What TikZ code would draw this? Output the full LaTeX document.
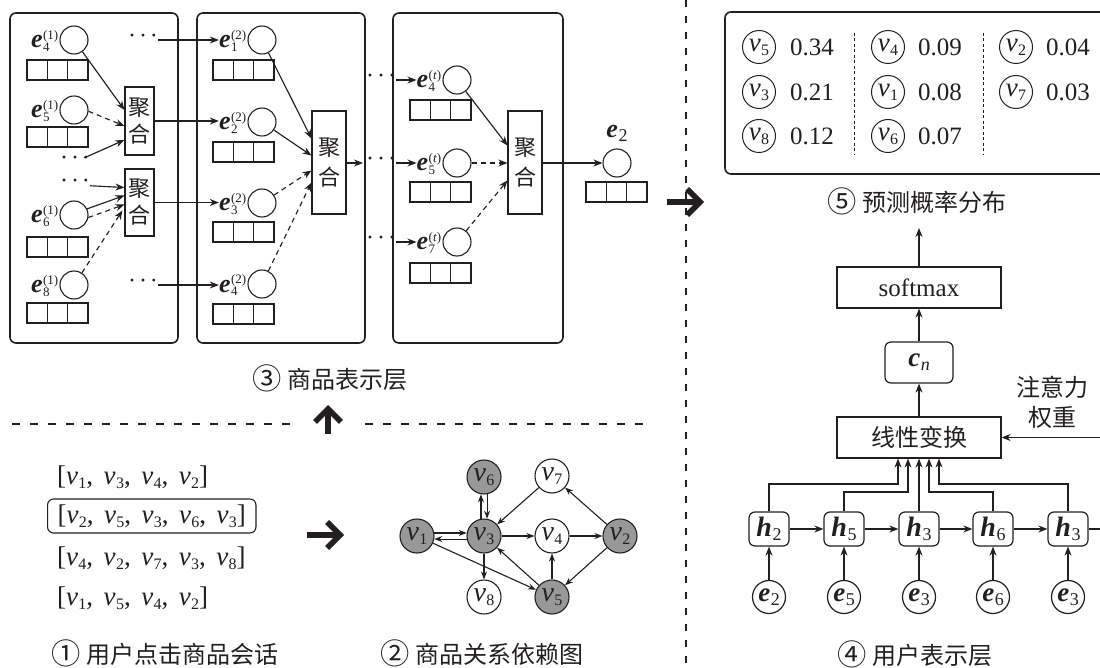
\documentclass[tikz,border=0pt]{standalone}
\usepackage{fontspec}
\usepackage{graphicx}
\setmainfont{Liberation Serif}
\newfontfamily\cjk{Noto Sans CJK SC}
\usetikzlibrary{arrows.meta,calc}
\definecolor{ink}{RGB}{35,31,32}
\definecolor{nodegray}{RGB}{152,152,152}
\newcommand{\myv}[1]{\textit{v}\kern0.3pt\raisebox{-4pt}{\fontsize{16}{16}\selectfont #1}}
\newcommand{\myeu}[2]{\textbf{\textit{e}}\kern0.5pt\rlap{\raisebox{-3.5pt}{\fontsize{13}{13}\selectfont #1}}\raisebox{8.5pt}{\fontsize{13}{13}\selectfont #2}}
\newcommand{\mybs}[2]{\textbf{\textit{#1}}\kern0.5pt\raisebox{-4pt}{\fontsize{18}{18}\selectfont #2}}
\newcommand{\mydots}{·\kern3pt·\kern3pt·}
\newcommand{\cnum}[1]{\raisebox{-1pt}{\scalebox{1.22}{#1}}\kern6pt}
\newcommand{\sep}{,\kern10.5pt}
\begin{document}
\begin{tikzpicture}[x=1pt,y=-1pt,
  every node/.style={text=ink},
  outerbox/.style={draw=ink,line width=1.6pt,rounded corners=6pt},
  ecirc/.style={circle,draw=ink,line width=1.1pt,minimum size=28pt,inner sep=0pt},
  agg/.style={draw=ink,line width=1.1pt,inner sep=0pt,align=center,font=\cjk\fontsize{22}{27}\selectfont},
  elab/.style={inner sep=0pt,anchor=base east,font=\fontsize{26}{26}\selectfont},
  dotsn/.style={inner sep=0pt,text height=8pt,text depth=-4pt,font=\fontsize{24}{24}\selectfont},
  conn/.style={draw=ink,line width=1.15pt,-{Stealth[length=9pt,width=7pt]}},
  dconn/.style={conn,dash pattern=on 5pt off 4pt},
  cells/.pic={\draw[ink,line width=1.1pt] (-30.5,-10) rectangle (30.5,10) (-10.2,-10) -- (-10.2,10) (10.2,-10) -- (10.2,10);},
  gnode/.style={circle,draw=ink,line width=1.1pt,minimum size=34pt,inner sep=0pt,fill=white,font=\fontsize{28}{28}\selectfont},
  gfill/.style={gnode,fill=nodegray},
  gconn/.style={draw=ink,line width=1.1pt,-{Stealth[length=8pt,width=6pt]}},
  pcirc/.style={circle,draw=ink,line width=1pt,minimum size=33pt,inner sep=0pt,font=\fontsize{27}{27}\selectfont},
  pnum/.style={inner sep=0pt,font=\fontsize{25}{25}\selectfont},
  plainbox/.style={draw=ink,line width=1.2pt,inner sep=0pt,minimum height=41pt},
  hbox/.style={draw=ink,line width=1.2pt,rounded corners=6pt,inner sep=0pt,minimum width=40pt,minimum height=34pt,font=\fontsize{28}{28}\selectfont},
  ecirc2/.style={circle,draw=ink,line width=1.2pt,minimum size=33pt,inner sep=0pt,font=\fontsize{27}{27}\selectfont},
  captxt/.style={inner sep=0pt,font=\cjk\fontsize{24}{24}\selectfont},
  cjklab/.style={inner sep=0pt,align=center,font=\cjk\fontsize{24}{30}\selectfont},
  seqn/.style={inner sep=0pt,anchor=west,font=\fontsize{27}{27}\selectfont},
  bigarrow/.style={draw=ink,line width=5.5pt,-{Straight Barb[length=13pt,width=26pt]}},
  sepline/.style={draw=ink,line width=1.1pt,dash pattern=on 8pt off 10pt},
]
\useasboundingbox (0,0) rectangle (1100,668);
\clip (0,0) rectangle (1100,668);

% ---------- outer boxes ----------
\draw[outerbox] (10,13) rectangle (178,343);
\draw[outerbox] (197,13) rectangle (365,343);
\draw[outerbox] (393,13) rectangle (563,343);
\draw[outerbox] (725,12) rectangle (1120,174);

% ---------- box 1 ----------
\node[ecirc] (c41) at (74,40) {};
\node[ecirc] (c51) at (74,110) {};
\node[ecirc] (c61) at (74,215) {};
\node[ecirc] (c81) at (74,285) {};
\node[elab] (l41) at ($(c41.west)+(-1,8)$) {\myeu{4}{(1)}};
\node[elab] (l51) at ($(c51.west)+(-1,8)$) {\myeu{5}{(1)}};
\node[elab] (l61) at ($(c61.west)+(-1,8)$) {\myeu{6}{(1)}};
\node[elab] (l81) at ($(c81.west)+(-1,8)$) {\myeu{8}{(1)}};
\pic at (57.5,70) {cells};
\pic at (57.5,137) {cells};
\pic at (57.5,247) {cells};
\pic at (57.5,313) {cells};
\node[dotsn] (d51) at (75,162) {\mydots};
\node[dotsn] (d52) at (75,185) {\mydots};
\node[dotsn] (d40) at (143,40) {\mydots};
\node[dotsn] (d80) at (143,285) {\mydots};
\node[agg,minimum width=29pt,minimum height=68pt] (a1) at (139.5,121) {聚\\合};
\node[agg,minimum width=29pt,minimum height=67pt] (a2) at (139.5,202.5) {聚\\合};
\draw[conn] (c41) -- ($(a1.west)+(0,-11)$);
\draw[dconn] (c51.-5) -- ($(a1.west)+(0,5)$);
\draw[conn] (d51) -- ($(a1.west)+(0,19)$);
\draw[conn] (d52) -- ($(a2.west)+(0,-15)$);
\draw[conn] (c61.25) -- ($(a2.west)+(0,-7)$);
\draw[dconn] (c61.-10) -- ($(a2.west)+(0,2)$);
\draw[dconn] (c81) -- ($(a2.west)+(-2,8)$);

% ---------- box 2 ----------
\node[ecirc] (c12) at (262,40) {};
\node[ecirc] (c22) at (262,122) {};
\node[ecirc] (c32) at (262,203) {};
\node[ecirc] (c42) at (262,284) {};
\node[elab] (l12) at ($(c12.west)+(-1,8)$) {\myeu{1}{(2)}};
\node[elab] (l22) at ($(c22.west)+(-1,8)$) {\myeu{2}{(2)}};
\node[elab] (l32) at ($(c32.west)+(-1,8)$) {\myeu{3}{(2)}};
\node[elab] (l42) at ($(c42.west)+(-1,8)$) {\myeu{4}{(2)}};
\pic at (243.5,70) {cells};
\pic at (243.5,152) {cells};
\pic at (243.5,232) {cells};
\pic at (243.5,314) {cells};
\node[agg,minimum width=34pt,minimum height=103pt,font=\cjk\fontsize{22}{30}\selectfont] (ab) at (329,162.5) {聚\\合};
\draw[conn] (c12) -- ($(ab.west)+(0,-24)$);
\draw[conn] (c22) -- ($(ab.west)+(0,-7)$);
\draw[dconn] (c32) -- ($(ab.west)+(0,8)$);
\draw[dconn] (c42) -- ($(ab.west)+(0,20)$);
% box1 -> box2
\draw[conn] (d40) -- (d40 -| l12.west);
\draw[conn] (a1.east) -- (a1.east -| l22.west);
\draw[conn] (a2.east) -- (a2.east -| l32.west);
\draw[conn] (d80) -- (d80 -| l42.west);

% ---------- box 3 ----------
\coordinate (tip2) at (363,163);
\draw[conn] (ab.east |- tip2) -- (tip2);
\node[dotsn] (dt1) at (381,80) {\mydots};
\node[dotsn] (dt2) at (381,163) {\mydots};
\node[dotsn] (dt3) at (381,242) {\mydots};
\node[ecirc] (c4t) at (457,80) {};
\node[ecirc] (c5t) at (457,163) {};
\node[ecirc] (c7t) at (457,242) {};
\node[elab] (l4t) at ($(c4t.west)+(-1,8)$) {\myeu{4}{(\textit{t})}};
\node[elab] (l5t) at ($(c5t.west)+(-1,8)$) {\myeu{5}{(\textit{t})}};
\node[elab] (l7t) at ($(c7t.west)+(-1,8)$) {\myeu{7}{(\textit{t})}};
\pic at (440.5,110) {cells};
\pic at (440.5,192) {cells};
\pic at (440.5,273) {cells};
\node[agg,minimum width=34pt,minimum height=103pt,font=\cjk\fontsize{22}{30}\selectfont] (ac) at (525,162.5) {聚\\合};
\draw[conn] (dt1) -- (dt1 -| l4t.west);
\draw[conn] (dt2) -- (dt2 -| l5t.west);
\draw[conn] (dt3) -- (dt3 -| l7t.west);
\draw[conn] (c4t) -- ($(ac.west)+(0,-17)$);
\draw[dconn] (c5t) -- (c5t -| ac.west);
\draw[dconn] (c7t) -- ($(ac.west)+(0,18)$);
\node[ecirc] (cout) at (617,163) {};
\node[inner sep=0pt,font=\fontsize{26}{26}\selectfont] (lout) at (617,133) {\mybs{e}{2}};
\pic at (616.5,192) {cells};
\draw[conn] (ac.east |- cout) -- (cout);

\node[captxt] (cap3) at (330,378) {\cnum{③}商品表示层};

% ---------- separators and big arrows ----------
\draw[sepline] (12,424) -- (297,424);
\draw[sepline] (365,424) -- (647,424);
\draw[draw=ink,line width=1.1pt,dash pattern=on 7pt off 9pt] (686,0) -- (686,668);
\coordinate (ba1s) at (667,202); \coordinate (ba1e) at (704,202);
\coordinate (ba2s) at (328,434); \coordinate (ba2e) at (328,405);
\coordinate (ba3s) at (307,535); \coordinate (ba3e) at (344,535);
\draw[bigarrow] (ba1s) -- (ba1e);
\draw[bigarrow] (ba2s) -- (ba2e);
\draw[bigarrow] (ba3s) -- (ba3e);

% ---------- sessions ----------
\node[seqn] (s1) at (57,477) {[\myv{1}\sep\myv{3}\sep\myv{4}\sep\myv{2}]};
\node[seqn,draw=ink,line width=1.1pt,rounded corners=6pt,inner xsep=10pt,minimum height=34pt] (s2) at (47,516) {[\myv{2}\sep\myv{5}\sep\myv{3}\sep\myv{6}\sep\myv{3}]};
\node[seqn] (s3) at (57,558) {[\myv{4}\sep\myv{2}\sep\myv{7}\sep\myv{3}\sep\myv{8}]};
\node[seqn] (s4) at (57,598) {[\myv{1}\sep\myv{5}\sep\myv{4}\sep\myv{2}]};
\node[captxt] (cap1) at (165,653) {\cnum{①}用户点击商品会话};

% ---------- graph ----------
\node[gfill] (gv6) at (484,477) {\myv{6}};
\node[gnode] (gv7) at (552,476) {\myv{7}};
\node[gfill] (gv1) at (417,536) {\myv{1}};
\node[gfill] (gv3) at (484,536) {\myv{3}};
\node[gnode] (gv4) at (552,536) {\myv{4}};
\node[gfill] (gv2) at (620,536) {\myv{2}};
\node[gnode] (gv8) at (484,597) {\myv{8}};
\node[gfill] (gv5) at (552,597) {\myv{5}};
\draw[gconn] (gv1.10) -- (gv3.170);
\draw[gconn] (gv3.190) -- (gv1.350);
\draw[gconn] (gv3.100) -- (gv6.260);
\draw[gconn] (gv6.280) -- (gv3.80);
\draw[gconn] (gv7) -- (gv3);
\draw[gconn] (gv3) -- (gv4);
\draw[gconn] (gv4) -- (gv2);
\draw[gconn] (gv2) -- (gv7);
\draw[gconn] (gv2) -- (gv5);
\draw[gconn] (gv5) -- (gv4);
\draw[gconn] (gv5) -- (gv3);
\draw[gconn] (gv3) -- (gv8);
\draw[gconn] (gv1) -- (gv5);
\node[captxt] (cap2) at (482,653) {\cnum{②}商品关系依赖图};

% ---------- prediction ----------
\node[pcirc] (p5) at (759,47) {\myv{5}};
\node[pcirc] (p3) at (759,92) {\myv{3}};
\node[pcirc] (p8) at (759,136) {\myv{8}};
\node[pcirc] (p4) at (888,47) {\myv{4}};
\node[pcirc] (p1) at (888,92) {\myv{1}};
\node[pcirc] (p6) at (888,136) {\myv{6}};
\node[pcirc] (p2) at (1016,47) {\myv{2}};
\node[pcirc] (p7) at (1016,92) {\myv{7}};
\node[pnum] (n5) at (812,47) {0.34};
\node[pnum] (n3) at (812,92) {0.21};
\node[pnum] (n8) at (812,136) {0.12};
\node[pnum] (n4) at (940,47) {0.09};
\node[pnum] (n1) at (940,92) {0.08};
\node[pnum] (n6) at (940,136) {0.07};
\node[pnum] (n2) at (1068,47) {0.04};
\node[pnum] (n7) at (1068,92) {0.03};
\draw[ink,line width=1pt,dash pattern=on 3pt off 2.5pt] (854,33) -- (854,155);
\draw[ink,line width=1pt,dash pattern=on 3pt off 2.5pt] (983,33) -- (983,155);
\node[captxt] (cap5) at (917,201) {\cnum{⑤}预测概率分布};

% ---------- user representation ----------
\node[plainbox,minimum width=164pt,font=\fontsize{25}{25}\selectfont] (soft) at (919,287.5) {softmax};
\node[plainbox,minimum width=68pt,rounded corners=6pt,font=\fontsize{27}{27}\selectfont] (cn) at (919,362.5) {\textbf{\textit{c}}\kern0.5pt\raisebox{-4pt}{\fontsize{18}{18}\selectfont\textit{n}}};
\node[plainbox,minimum width=164pt,font=\cjk\fontsize{24}{24}\selectfont] (lin) at (919,437.5) {线性变换};
\node[cjklab] (attn) at (1052,402) {注意力\\权重};
\coordinate (probtip) at (919,228);
\coordinate (attsrc) at (1110,437.5);
\draw[conn] (soft.north) -- (probtip);
\draw[conn] (cn.north) -- (soft.south);
\draw[conn] (lin.north) -- (cn.south);
\draw[conn] (attsrc) -- (lin.east);

\node[hbox] (h1) at (769,529) {\mybs{h}{2}};
\node[hbox] (h2) at (844,529) {\mybs{h}{5}};
\node[hbox] (h3) at (919,529) {\mybs{h}{3}};
\node[hbox] (h4) at (993,529) {\mybs{h}{6}};
\node[hbox] (h5) at (1068,529) {\mybs{h}{3}};
\node[ecirc2] (x1) at (769,597) {\mybs{e}{2}};
\node[ecirc2] (x2) at (844,597) {\mybs{e}{5}};
\node[ecirc2] (x3) at (919,597) {\mybs{e}{3}};
\node[ecirc2] (x4) at (993,597) {\mybs{e}{6}};
\node[ecirc2] (x5) at (1068,597) {\mybs{e}{3}};
\draw[conn] (x1) -- (h1);
\draw[conn] (x2) -- (h2);
\draw[conn] (x3) -- (h3);
\draw[conn] (x4) -- (h4);
\draw[conn] (x5) -- (h5);
\draw[conn] (h1) -- (h2);
\draw[conn] (h2) -- (h3);
\draw[conn] (h3) -- (h4);
\draw[conn] (h4) -- (h5);
\coordinate (hend) at (1110,529);
\draw[draw=ink,line width=1.1pt] (h5.east) -- (hend);
\coordinate (lvla) at (0,484);
\coordinate (lvlb) at (0,492);
\draw[conn] (h1.north) -- (h1.north |- lvla) -| ($(lin.south)+(-21,0)$);
\draw[conn] (h2.north) -- (h2.north |- lvlb) -| ($(lin.south)+(-11,0)$);
\draw[conn] (h3.north) -- (lin.south);
\draw[conn] (h4.north) -- (h4.north |- lvlb) -| ($(lin.south)+(10,0)$);
\draw[conn] (h5.north) -- (h5.north |- lvla) -| ($(lin.south)+(20,0)$);
\node[captxt] (cap4) at (915,654) {\cnum{④}用户表示层};
\end{tikzpicture}
\end{document}
